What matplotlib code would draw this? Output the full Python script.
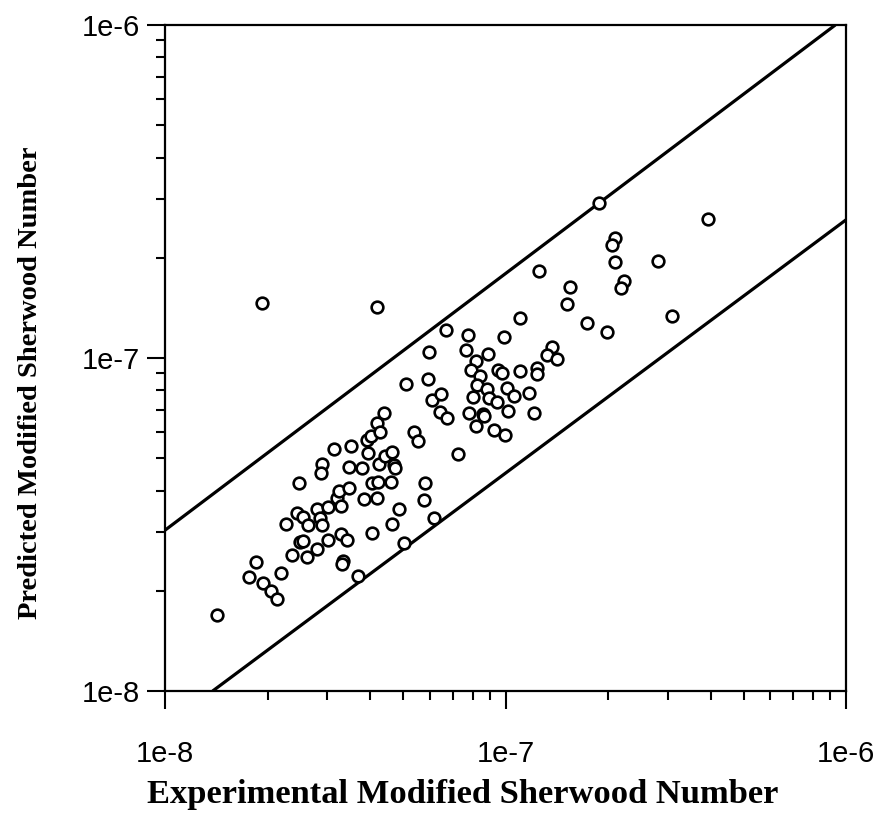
import matplotlib
matplotlib.use("Agg")
import matplotlib.pyplot as plt
from matplotlib.ticker import LogLocator, FixedLocator, NullFormatter

# Experimental vs predicted modified Sherwood numbers
sh_experimental = [
    1.42e-8, 1.77e-8, 1.85e-8, 1.94e-8, 2.05e-8, 2.13e-8, 2.19e-8, 2.36e-8, 2.61e-8, 2.48e-8,
    2.27e-8, 2.44e-8, 2.54e-8, 2.63e-8, 2.49e-8, 2.54e-8, 2.80e-8, 2.80e-8, 2.85e-8, 2.89e-8,
    3.01e-8, 3.01e-8, 3.14e-8, 2.89e-8, 2.87e-8, 3.20e-8, 3.24e-8, 3.29e-8, 3.47e-8, 3.29e-8,
    3.42e-8, 3.33e-8, 3.31e-8, 3.52e-8, 3.47e-8, 3.79e-8, 3.84e-8, 3.95e-8, 3.92e-8, 4.03e-8,
    4.19e-8, 4.28e-8, 4.40e-8, 4.25e-8, 4.43e-8, 4.64e-8, 4.71e-8, 4.74e-8, 4.06e-8, 4.22e-8,
    4.19e-8, 4.61e-8, 4.06e-8, 4.64e-8, 4.87e-8, 3.69e-8, 5.03e-8, 5.39e-8, 5.53e-8, 5.80e-8,
    5.76e-8, 6.17e-8, 6.08e-8, 6.42e-8, 6.73e-8, 7.25e-8, 7.81e-8, 8.59e-8, 8.65e-8, 8.19e-8,
    9.25e-8, 1.93e-8, 4.19e-8, 6.69e-8, 7.76e-8, 5.96e-8, 7.66e-8, 8.88e-8, 8.19e-8, 7.92e-8,
    9.51e-8, 9.77e-8, 8.42e-8, 8.25e-8, 8.82e-8, 8.94e-8, 9.44e-8, 8.03e-8, 5.10e-8, 5.92e-8,
    6.47e-8, 1.52e-7, 1.10e-7, 1.74e-7, 1.99e-7, 3.08e-7, 9.90e-8, 1.37e-7, 1.32e-7, 1.42e-7,
    1.10e-7, 1.24e-7, 1.24e-7, 1.01e-7, 1.17e-7, 1.06e-7, 1.02e-7, 1.21e-7, 9.97e-8, 1.88e-7,
    3.93e-7, 2.10e-7, 2.06e-7, 2.10e-7, 2.81e-7, 2.23e-7, 2.18e-7, 1.25e-7, 1.55e-7,
]
sh_predicted = [
    1.69e-8, 2.20e-8, 2.44e-8, 2.11e-8, 2.00e-8, 1.89e-8, 2.26e-8, 2.56e-8, 2.53e-8, 4.21e-8,
    3.17e-8, 3.42e-8, 3.33e-8, 3.15e-8, 2.80e-8, 2.82e-8, 2.67e-8, 3.52e-8, 3.31e-8, 3.15e-8,
    3.57e-8, 2.84e-8, 5.33e-8, 4.81e-8, 4.52e-8, 3.80e-8, 3.99e-8, 3.59e-8, 4.07e-8, 2.96e-8,
    2.84e-8, 2.46e-8, 2.41e-8, 5.44e-8, 4.71e-8, 4.67e-8, 3.77e-8, 5.18e-8, 5.67e-8, 5.83e-8,
    6.38e-8, 6.00e-8, 6.84e-8, 4.81e-8, 5.08e-8, 5.22e-8, 4.77e-8, 4.67e-8, 4.21e-8, 4.24e-8,
    3.80e-8, 4.24e-8, 2.98e-8, 3.17e-8, 3.52e-8, 2.22e-8, 2.78e-8, 6.00e-8, 5.63e-8, 4.21e-8,
    3.75e-8, 3.31e-8, 7.48e-8, 6.88e-8, 6.60e-8, 5.15e-8, 6.84e-8, 6.79e-8, 6.70e-8, 6.25e-8,
    6.08e-8, 1.46e-7, 1.42e-7, 1.21e-7, 1.17e-7, 1.04e-7, 1.06e-7, 1.03e-7, 9.79e-8, 9.20e-8,
    9.20e-8, 9.02e-8, 8.83e-8, 8.30e-8, 8.07e-8, 7.59e-8, 7.38e-8, 7.64e-8, 8.36e-8, 8.65e-8,
    7.80e-8, 1.45e-7, 1.32e-7, 1.27e-7, 1.20e-7, 1.34e-7, 1.16e-7, 1.08e-7, 1.02e-7, 9.93e-8,
    9.14e-8, 9.33e-8, 8.95e-8, 8.13e-8, 7.85e-8, 7.69e-8, 6.93e-8, 6.84e-8, 5.87e-8, 2.92e-7,
    2.62e-7, 2.29e-7, 2.18e-7, 1.94e-7, 1.96e-7, 1.70e-7, 1.62e-7, 1.83e-7, 1.63e-7,
]

# Upper and lower error-band lines (end points)
upper_band_x = [1.0e-8, 9.3e-7]
upper_band_y = [3.04e-8, 1.0e-6]
lower_band_x = [1.38e-8, 1.0e-6]
lower_band_y = [1.0e-8, 2.6e-7]

axis_limits = (1e-8, 1e-6)
major_ticks = [1e-8, 1e-7, 1e-6]
major_tick_labels = ["1e-8", "1e-7", "1e-6"]

fig = plt.figure(figsize=(8.8, 8.17), dpi=100)
ax = fig.add_axes([0.1875, 0.1542, 0.7739, 0.8152])

ax.plot(upper_band_x, upper_band_y, color="black", lw=2.3, solid_capstyle="butt")
ax.plot(lower_band_x, lower_band_y, color="black", lw=2.3, solid_capstyle="butt")
ax.plot(sh_experimental, sh_predicted, linestyle="none", marker="o",
        markersize=8.4, markerfacecolor="white", markeredgecolor="black",
        markeredgewidth=1.9)

ax.set_xscale("log")
ax.set_yscale("log")
ax.set_xlim(*axis_limits)
ax.set_ylim(*axis_limits)

tick_font = dict(family=["Liberation Sans Narrow", "Liberation Sans"], size=21)
for axis in (ax.xaxis, ax.yaxis):
    axis.set_major_locator(FixedLocator(major_ticks))
    axis.set_minor_locator(LogLocator(base=10, subs=range(2, 10)))
    axis.set_minor_formatter(NullFormatter())
ax.set_xticks(major_ticks)
ax.set_xticklabels(major_tick_labels, fontdict=tick_font)
ax.set_yticks(major_ticks)
ax.set_yticklabels(major_tick_labels, fontdict=tick_font)

ax.tick_params(which="major", direction="out", length=13, width=1.5, color="black")
ax.tick_params(which="minor", direction="out", length=6.5, width=1.5, color="black")
ax.tick_params(axis="x", which="major", pad=22)
ax.tick_params(axis="y", which="major", pad=5)
ax.tick_params(top=False, right=False, which="both")

for spine in ax.spines.values():
    spine.set_linewidth(1.6)

label_font = dict(family="Liberation Serif", weight="bold")
fig.text(463 / 880, 1 - 795 / 817, "Experimental Modified Sherwood Number",
         fontsize=24.8, ha="center", va="center", **label_font)
fig.text(31 / 880, 1 - 383 / 817, "Predicted Modified Sherwood Number",
         fontsize=20.5, rotation=90, ha="center", va="center", **label_font)

fig.savefig("out.png", dpi=100, facecolor="white")
